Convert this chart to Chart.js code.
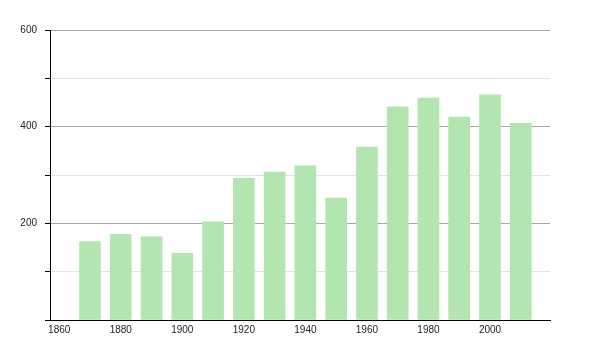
<!DOCTYPE html>
<html>
<head>
<meta charset="utf-8">
<script src="https://cdn.jsdelivr.net/npm/chart.js@4/dist/chart.umd.min.js"></script>
<style>
  html, body { margin: 0; padding: 0; background: #fff; }
  #wrap { width: 600px; height: 350px; }
</style>
</head>
<body>
<div id="wrap"><canvas id="c" width="600" height="350"></canvas></div>
<script>
const years = [1870, 1880, 1890, 1900, 1910, 1920, 1930, 1940, 1950, 1960, 1970, 1980, 1990, 2000, 2010];
const population = [162, 177, 172, 138, 203, 293, 306, 319, 252, 358, 441, 459, 420, 466, 407];
const xTickLabels = [1860, 1880, 1900, 1920, 1940, 1960, 1980, 2000];
const yTickLabels = [200, 400, 600];

const points = years.map((y, i) => ({ x: y, y: population[i] }));

new Chart(document.getElementById('c'), {
  type: 'bar',
  data: {
    datasets: [{
      data: points,
      backgroundColor: '#b3e5b0',
      borderWidth: 0,
      barThickness: 21
    }]
  },
  options: {
    responsive: false,
    animation: false,
    layout: { padding: { top: 30, right: 50, left: 0, bottom: 0 } },
    plugins: { legend: { display: false }, tooltip: { enabled: false } },
    scales: {
      x: {
        type: 'linear',
        offset: false,
        min: 1857,
        max: 2019.5,
        afterBuildTicks: (axis) => { axis.ticks = xTickLabels.map(v => ({ value: v })); },
        afterFit: (axis) => { axis.height = 30; },
        grid: { display: false, drawTicks: false, offset: false },
        border: { display: true, color: '#000', width: 1 },
        ticks: {
          color: '#222',
          padding: 4,
          maxRotation: 0,
          autoSkip: false,
          font: { family: 'Liberation Sans, Arial, sans-serif', size: 10 },
          callback: (v) => String(v)
        }
      },
      y: {
        min: 0,
        max: 600,
        afterFit: (axis) => { axis.width = 50; },
        grid: {
          color: (ctx) => {
            const v = ctx.tick ? ctx.tick.value : 0;
            if (v === 0) return 'rgba(0,0,0,0)';
            return yTickLabels.includes(v) ? '#a8a8a8' : '#e2e2e2';
          },
          tickColor: '#000',
          tickLength: 5,
          lineWidth: 1
        },
        border: { display: true, color: '#000', width: 1 },
        ticks: {
          stepSize: 100,
          color: '#222',
          padding: 8,
          font: { family: 'Liberation Sans, Arial, sans-serif', size: 10 },
          callback: (v) => yTickLabels.includes(v) ? String(v) : ''
        }
      }
    }
  }
});
</script>
</body>
</html>
